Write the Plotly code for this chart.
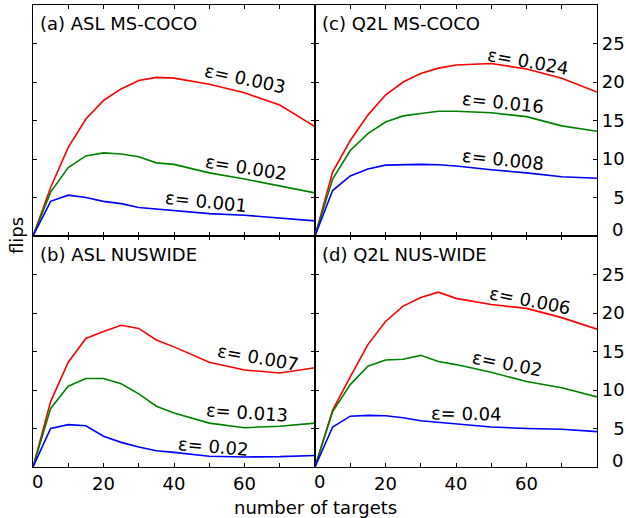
import plotly.graph_objects as go
from plotly.subplots import make_subplots

targets = [0, 5, 10, 15, 20, 25, 30, 35, 40, 50, 60, 70, 80]

# (a) ASL MS-COCO
a_red = [0, 6.3, 11.5, 15.2, 17.6, 19.1, 20.2, 20.6, 20.5, 19.7, 18.6, 17.0, 14.2]
a_green = [0, 5.7, 8.9, 10.4, 10.8, 10.65, 10.3, 9.5, 9.3, 8.2, 7.4, 6.5, 5.6]
a_blue = [0, 4.5, 5.3, 5.0, 4.5, 4.2, 3.7, 3.5, 3.3, 2.9, 2.7, 2.35, 1.96]
# (c) Q2L MS-COCO
c_red = [0, 8.3, 12.4, 15.7, 18.3, 20.0, 21.1, 21.8, 22.2, 22.4, 21.7, 20.5, 18.7]
c_green = [0, 7.4, 11.1, 13.3, 14.8, 15.6, 15.9, 16.2, 16.2, 16.0, 15.5, 14.3, 13.6]
c_blue = [0, 5.9, 7.8, 8.7, 9.2, 9.26, 9.3, 9.26, 9.1, 8.6, 8.2, 7.7, 7.5]
# (b) ASL NUSWIDE
b_red = [0, 8.5, 13.6, 16.7, 17.6, 18.4, 18.0, 16.5, 15.6, 13.6, 12.6, 12.2, 12.9]
b_green = [0, 7.6, 10.5, 11.5, 11.5, 10.8, 9.5, 7.9, 7.0, 5.7, 5.1, 5.3, 5.7]
b_blue = [0, 5.0, 5.5, 5.35, 4.0, 3.2, 2.6, 2.1, 1.9, 1.4, 1.3, 1.35, 1.5]
# (d) Q2L NUS-WIDE
d_red = [0, 7.4, 11.7, 15.9, 18.9, 20.9, 22.0, 22.7, 21.9, 21.1, 20.6, 19.4, 17.9]
d_green = [0, 7.2, 10.7, 13.1, 13.9, 14.0, 14.5, 13.7, 13.3, 12.3, 11.1, 10.3, 9.1]
d_blue = [0, 5.2, 6.6, 6.7, 6.65, 6.4, 6.0, 5.8, 5.6, 5.2, 5.0, 4.9, 4.6]

panel_titles = ["(a) ASL MS-COCO", "(c) Q2L MS-COCO", "(b) ASL NUSWIDE", "(d) Q2L NUS-WIDE"]
eps_labels = [
    ["ε= 0.003", "ε= 0.002", "ε= 0.001"],
    ["ε= 0.024", "ε= 0.016", "ε= 0.008"],
    ["ε= 0.007", "ε= 0.013", "ε= 0.02"],
    ["ε= 0.006", "ε= 0.02", "ε= 0.04"],
]
eps_pos = [
    [(60, 20.4, 12), (60.4, 8.9, 9), (49, 4.5, 6)],
    [(60.5, 22.6, 10), (53.4, 17.4, 6), (53.4, 10.0, 6)],
    [(63.8, 14.2, 10), (60.6, 7.1, 4), (51.1, 2.7, 5)],
    [(61.1, 21.6, 11), (54.5, 13.5, 11), (42.9, 7.0, 1)],
]
y_ticks = [0, 5, 10, 15, 20, 25]
y_ticktext = ["", "\u20075", "10", "15", "20", "25"]
x_ticks = [0, 10, 20, 30, 40, 50, 60, 70, 80]
x_ticktext = ["", "", "20", "", "40", "", "60", "", ""]

FONT = "DejaVu Sans"
FS = 18

panels = [
    (1, 1, a_red, a_green, a_blue),
    (1, 2, c_red, c_green, c_blue),
    (2, 1, b_red, b_green, b_blue),
    (2, 2, d_red, d_green, d_blue),
]

fig = make_subplots(rows=2, cols=2, horizontal_spacing=0, vertical_spacing=0)
colors = ["#ff0000", "#008000", "#0000ff"]

annotations = []
for i, (r, c, red, green, blue) in enumerate(panels):
    for ser, col in zip([red, green, blue], colors):
        fig.add_trace(go.Scatter(x=targets, y=ser, mode="lines",
                                 line=dict(color=col, width=1.6),
                                 showlegend=False, hoverinfo="skip"), row=r, col=c)
    ax = "" if i == 0 else str(i + 1)
    xref = "x" + ax
    yref = "y" + ax
    annotations.append(dict(text=panel_titles[i], xref=xref + " domain", yref=yref + " domain",
                            x=0, y=1, xanchor="left", yanchor="middle", xshift=5, yshift=-18,
                            showarrow=False, font=dict(family=FONT, size=FS, color="black")))
    for lab, (lx, ly, ang) in zip(eps_labels[i], eps_pos[i]):
        annotations.append(dict(text=lab, xref=xref, yref=yref, x=lx, y=ly,
                                textangle=ang, showarrow=False,
                                font=dict(family=FONT, size=FS, color="black")))
    # first tick labels "0"
    if r == 2:
        annotations.append(dict(text="0", xref=xref, yref=yref + " domain", x=0, y=0,
                                xanchor="left", yanchor="top", xshift=-3, yshift=-2,
                                showarrow=False, font=dict(family=FONT, size=FS, color="black")))
    if c == 2:
        annotations.append(dict(text="0", xref=xref + " domain", yref=yref, x=1, y=0,
                                xanchor="right", yanchor="middle", xshift=28, yshift=7,
                                showarrow=False, font=dict(family=FONT, size=FS, color="black")))

    fig.update_xaxes(range=[0, 80], tickvals=x_ticks, ticktext=x_ticktext,
                     showticklabels=(r == 2), ticks="inside", ticklen=4, tickwidth=1,
                     tickcolor="black", showline=True, linecolor="black", linewidth=1.4,
                     mirror="allticks", showgrid=False, zeroline=False, automargin=False,
                     tickfont=dict(family=FONT, size=FS, color="black"), row=r, col=c)
    fig.update_yaxes(range=[0, 30], tickvals=y_ticks, ticktext=y_ticktext,
                     showticklabels=(c == 2), side=("right" if c == 2 else "left"),
                     ticks="inside", ticklen=4, tickwidth=1,
                     tickcolor="black", showline=True, linecolor="black", linewidth=1.4,
                     mirror="allticks", showgrid=False, zeroline=False, automargin=False,
                     tickfont=dict(family=FONT, size=FS, color="black"), row=r, col=c)

annotations.append(dict(text="flips", xref="paper", yref="paper", x=0, y=0.5,
                        xanchor="center", yanchor="middle", xshift=-17, textangle=-90,
                        showarrow=False, font=dict(family=FONT, size=FS, color="black")))
annotations.append(dict(text="number of targets", xref="paper", yref="paper", x=0.5, y=0,
                        xanchor="center", yanchor="middle", yshift=-40,
                        showarrow=False, font=dict(family=FONT, size=FS, color="black")))

fig.update_layout(width=626, height=518, margin=dict(l=33, r=29, t=5, b=51, autoexpand=False),
                  paper_bgcolor="white", plot_bgcolor="white",
                  annotations=annotations, font=dict(family=FONT, size=FS, color="black"))

fig.write_html("out.html", config={"displayModeBar": False},
               post_script="document.body.style.margin='0';document.body.style.overflow='hidden';")
